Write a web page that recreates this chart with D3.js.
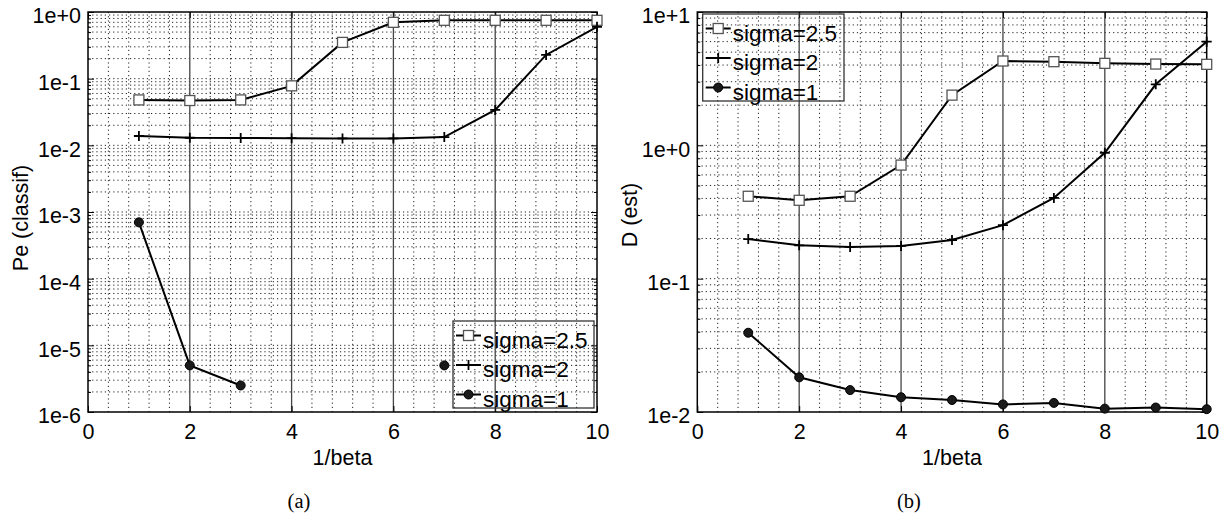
<!DOCTYPE html>
<html>
<head>
<meta charset="utf-8">
<script src="https://cdn.jsdelivr.net/npm/d3@7"></script>
<style>
  body { margin: 0; background: #fff; }
  svg { display: block; }
</style>
</head>
<body>
<div id="chart"></div>
<script>
// data
var betaInv = [1, 2, 3, 4, 5, 6, 7, 8, 9, 10];

// (a) Pe (classif)
var peSigma25 = [0.048, 0.047, 0.048, 0.078, 0.35, 0.70, 0.75, 0.75, 0.75, 0.75];
var peSigma2 = [0.0138, 0.0130, 0.0129, 0.0128, 0.0127, 0.0127, 0.0133, 0.034, 0.227, 0.60];
var peSigma1 = [7.0e-4, 5.0e-6, 2.5e-6, null, null, null, 5.0e-6, null, null, null];

// (b) D (est)
var dSigma25 = [0.415, 0.387, 0.415, 0.711, 2.38, 4.29, 4.24, 4.12, 4.07, 4.05];
var dSigma2 = [0.198, 0.178, 0.173, 0.176, 0.195, 0.252, 0.403, 0.88, 2.87, 5.99];
var dSigma1 = [0.0393, 0.0182, 0.0146, 0.0129, 0.0123, 0.0114, 0.0117, 0.0106, 0.0108, 0.0105];

var xTicks = [0, 2, 4, 6, 8, 10];
var yTicksA = [1e-6, 1e-5, 1e-4, 1e-3, 1e-2, 1e-1, 1e0];
var yLabelsA = ["1e-6", "1e-5", "1e-4", "1e-3", "1e-2", "1e-1", "1e+0"];
var yTicksB = [1e-2, 1e-1, 1e0, 1e1];
var yLabelsB = ["1e-2", "1e-1", "1e+0", "1e+1"];
var legendNames = ["sigma=2.5", "sigma=2", "sigma=1"];

var svg = d3.select("#chart").append("svg")
  .attr("width", 1226)
  .attr("height", 515);

svg.append("rect").attr("width", 1226).attr("height", 515).attr("fill", "#fff");

var FONT = "'Liberation Sans', Arial, Helvetica, sans-serif";

function drawMarker(g, kind, cx, cy) {
  if (kind == "square") {
    g.append("rect")
      .attr("x", cx - 5).attr("y", cy - 5)
      .attr("width", 10).attr("height", 10)
      .attr("fill", "#fff").attr("stroke", "#555").attr("stroke-width", 1.3);
  } else if (kind == "plus") {
    g.append("path")
      .attr("d", "M" + (cx - 5) + "," + cy + "H" + (cx + 5) + "M" + cx + "," + (cy - 5) + "V" + (cy + 5))
      .attr("stroke", "#000").attr("stroke-width", 1.8);
  } else {
    g.append("circle")
      .attr("cx", cx).attr("cy", cy).attr("r", 4.5)
      .attr("fill", "#1a1a1a").attr("stroke", "#000").attr("stroke-width", 1);
  }
}

function drawPanel(p) {
  var top = 12, bottom = 412;
  var x = d3.scaleLinear().domain([0, 10]).range([p.left, p.right]);
  var y = d3.scaleLog().domain(p.yDomain).range([bottom, top]);
  var g = svg.append("g");

  // minor grid, dotted
  var minorX = d3.range(1, 25).filter(function(k) { return k % 5 != 0; })
    .map(function(k) { return k * 0.4; });
  g.selectAll(".vminor").data(minorX).enter().append("line")
    .attr("x1", d => x(d)).attr("x2", d => x(d))
    .attr("y1", top).attr("y2", bottom)
    .attr("stroke", "#222").attr("stroke-width", 1)
    .attr("stroke-dasharray", "1.2,3");

  var lo = Math.round(Math.log10(p.yDomain[0])), hi = Math.round(Math.log10(p.yDomain[1]));
  var minorY = [];
  for (var e = lo; e < hi; e++) {
    for (var m = 1; m <= 9; m++) {
      if (e == lo && m == 1) continue;
      minorY.push(m * Math.pow(10, e));
    }
  }
  g.selectAll(".hminor").data(minorY).enter().append("line")
    .attr("x1", p.left).attr("x2", p.right)
    .attr("y1", d => y(d)).attr("y2", d => y(d))
    .attr("stroke", "#222").attr("stroke-width", 1)
    .attr("stroke-dasharray", "1.2,3");

  // major vertical grid, solid
  g.selectAll(".vmajor").data([2, 4, 6, 8]).enter().append("line")
    .attr("x1", d => x(d)).attr("x2", d => x(d))
    .attr("y1", top).attr("y2", bottom)
    .attr("stroke", "#444").attr("stroke-width", 1.3);

  // ticks inside on all four sides
  var minorTicks = minorY.filter(d => p.yTicks.indexOf(d) < 0);
  g.append("g").attr("transform", "translate(" + p.left + ",0)")
    .call(d3.axisLeft(y).tickValues(p.yTicks).tickSize(-6).tickPadding(7)
      .tickFormat((d, i) => p.yLabels[i]));
  g.append("g").attr("transform", "translate(" + p.left + ",0)")
    .call(d3.axisLeft(y).tickValues(minorTicks).tickSize(-3).tickFormat(""));
  g.append("g").attr("transform", "translate(" + p.right + ",0)")
    .call(d3.axisRight(y).tickValues(p.yTicks).tickSize(-6).tickFormat(""));
  g.append("g").attr("transform", "translate(" + p.right + ",0)")
    .call(d3.axisRight(y).tickValues(minorTicks).tickSize(-3).tickFormat(""));
  g.append("g").attr("transform", "translate(0," + bottom + ")")
    .call(d3.axisBottom(x).tickValues(xTicks).tickSize(-6).tickPadding(12)
      .tickFormat(d3.format("d")));
  g.append("g").attr("transform", "translate(0," + top + ")")
    .call(d3.axisTop(x).tickValues(xTicks).tickSize(-6).tickFormat(""));

  g.selectAll(".domain").remove();
  g.selectAll(".tick line").attr("stroke", "#000").attr("stroke-width", 1);
  g.selectAll(".tick text")
    .attr("font-family", FONT).attr("font-size", 21.5).attr("fill", "#000");
  g.selectAll(".tick text").filter(function() { return d3.select(this).attr("x") != null && +d3.select(this).attr("x") < 0; })
    .attr("dy", "0.5em");

  // box
  g.append("rect")
    .attr("x", p.left).attr("y", top)
    .attr("width", p.right - p.left).attr("height", bottom - top)
    .attr("fill", "none").attr("stroke", "#000").attr("stroke-width", 1.5);

  // series
  var kinds = ["square", "plus", "circle"];
  var line = d3.line()
    .defined(d => d[1] != null)
    .x(d => x(d[0])).y(d => y(d[1]));
  p.series.forEach(function(vals, si) {
    var pts = betaInv.map((b, i) => [b, vals[i]]);
    g.append("path").datum(pts)
      .attr("d", line)
      .attr("fill", "none").attr("stroke", "#000").attr("stroke-width", 2);
    pts.forEach(function(d) {
      if (d[1] != null) drawMarker(g, kinds[si], x(d[0]), y(d[1]));
    });
  });

  // axis labels
  g.append("text")
    .attr("x", (p.left + p.right) / 2).attr("y", 465)
    .attr("text-anchor", "middle")
    .attr("font-family", FONT).attr("font-size", 21.5)
    .text("1/beta");
  g.append("text")
    .attr("transform", "translate(" + (p.left - 60) + "," + p.labelY + ") rotate(-90)")
    .attr("text-anchor", "middle")
    .attr("font-family", FONT).attr("font-size", 21.5)
    .text(p.yTitle);
  g.append("text")
    .attr("x", p.captionX).attr("y", 508)
    .attr("text-anchor", "middle")
    .attr("font-family", "'Liberation Serif', 'Times New Roman', serif").attr("font-size", 20.5)
    .text(p.caption);

  // legend (transparent, grid shows through)
  var lg = g.append("g");
  lg.append("rect")
    .attr("x", p.legend[0]).attr("y", p.legend[1])
    .attr("width", p.legend[2]).attr("height", p.legend[3])
    .attr("fill", "none").attr("stroke", "#333").attr("stroke-width", 1.3);
  legendNames.forEach(function(name, i) {
    var ly = p.legend[1] + 14.5 + i * 29.5;
    var lx = p.legend[0] + 3;
    lg.append("line")
      .attr("x1", lx).attr("x2", lx + 25)
      .attr("y1", ly).attr("y2", ly)
      .attr("stroke", "#000").attr("stroke-width", 2);
    drawMarker(lg, kinds[i], lx + 12.5, ly);
    lg.append("text")
      .attr("x", lx + 27).attr("y", ly + 12)
      .attr("font-family", FONT).attr("font-size", 22.5)
      .text(name);
  });
}

drawPanel({
  left: 88, right: 597,
  yDomain: [1e-6, 1],
  yTicks: yTicksA, yLabels: yLabelsA,
  yTitle: "Pe (classif)", labelY: 218,
  caption: "(a)", captionX: 299,
  series: [peSigma25, peSigma2, peSigma1],
  legend: [453, 321, 141, 87]
});

drawPanel({
  left: 697.3, right: 1206.7,
  yDomain: [1e-2, 10],
  yTicks: yTicksB, yLabels: yLabelsB,
  yTitle: "D (est)", labelY: 215,
  caption: "(b)", captionX: 909,
  series: [dSigma25, dSigma2, dSigma1],
  legend: [702.7, 14, 141.3, 87]
});
</script>
</body>
</html>
